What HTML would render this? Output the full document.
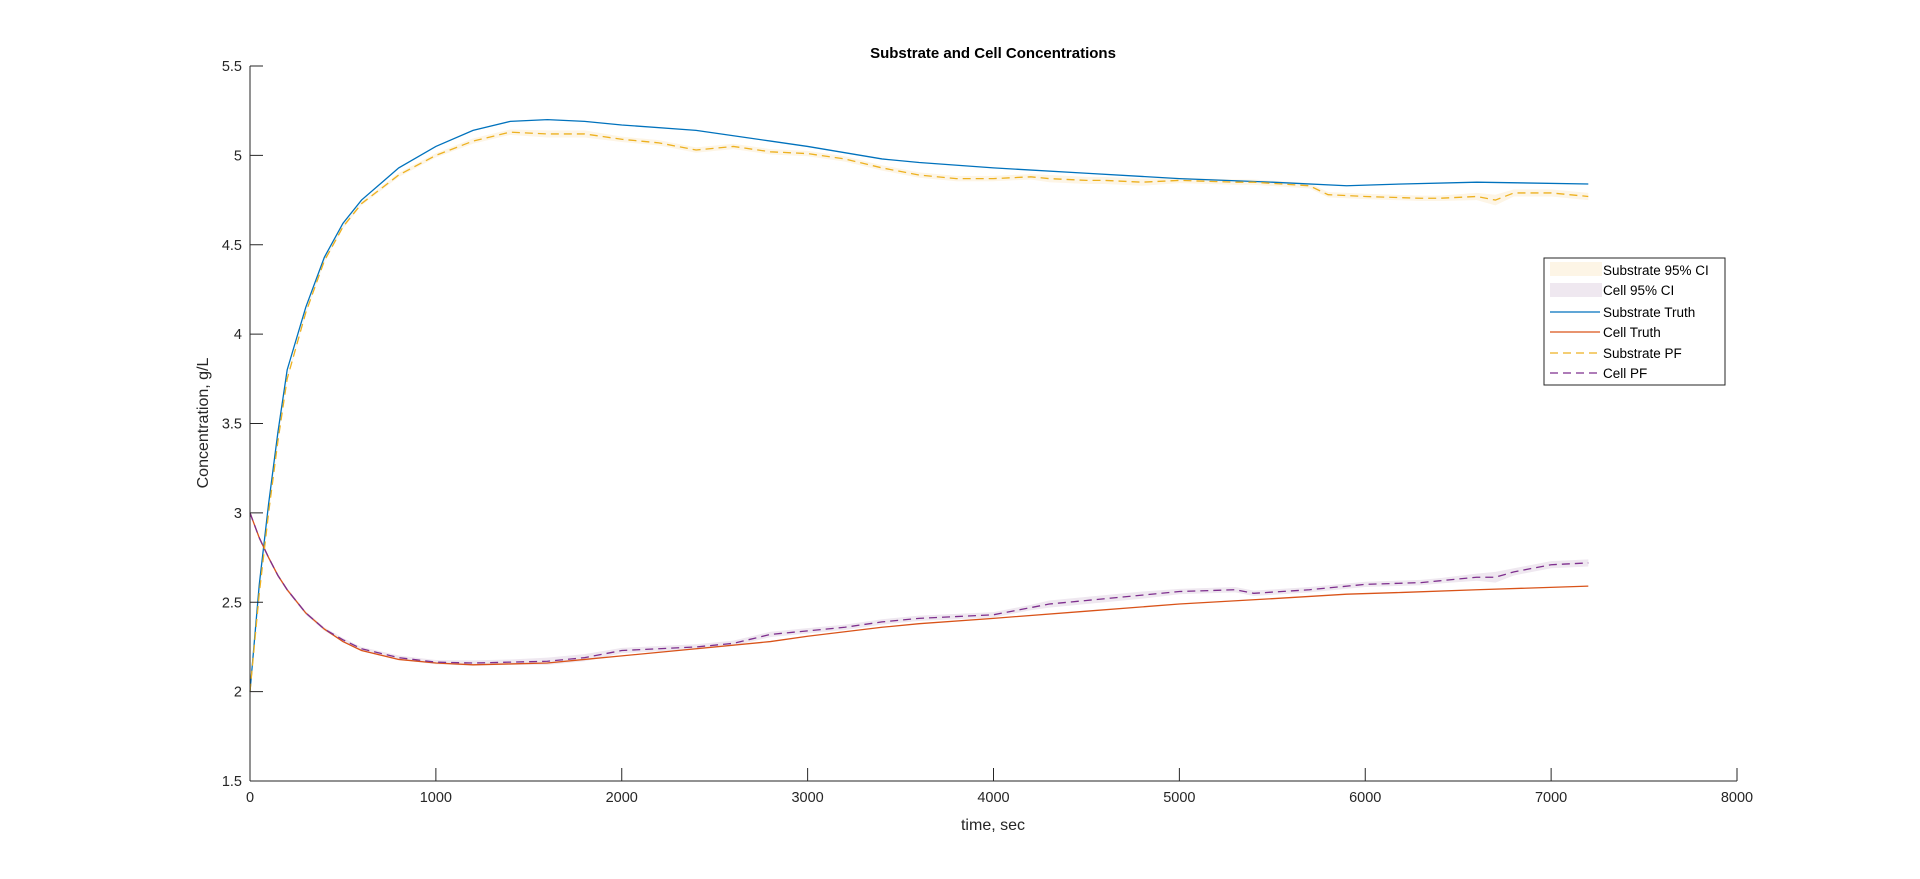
<!DOCTYPE html>
<html><head><meta charset="utf-8"><style>
html,body{margin:0;padding:0;background:#fff;}
svg{display:block;font-family:"Liberation Sans",Arial,sans-serif;}
</style></head><body>
<svg id="chart" width="1920" height="879" viewBox="0 0 1920 879">
<rect width="1920" height="879" fill="#fff"/>
<text x="993" y="58" text-anchor="middle" font-size="15" font-weight="bold" fill="#000">Substrate and Cell Concentrations</text>
<g id="bands"></g><g id="lines"></g><g id="axes"></g>
<text x="993" y="830" text-anchor="middle" font-size="16" fill="#262626">time, sec</text>
<text transform="translate(208,423) rotate(-90)" text-anchor="middle" font-size="16" fill="#262626">Concentration, g/L</text>
<g>
<rect x="1544" y="258" width="181" height="127" fill="#fff" stroke="#262626" stroke-width="1"/>
<rect x="1550" y="262" width="52" height="14" fill="#fdf5e6"/>
<text x="1603" y="275" font-size="13.5" fill="#000">Substrate 95% CI</text>
<rect x="1550" y="283" width="52" height="14" fill="#efe8f0"/>
<text x="1603" y="295" font-size="13.5" fill="#000">Cell 95% CI</text>
<line x1="1550" y1="312" x2="1600" y2="312" stroke="#0072BD" stroke-width="1.3"/>
<text x="1603" y="317" font-size="13.5" fill="#000">Substrate Truth</text>
<line x1="1550" y1="332" x2="1600" y2="332" stroke="#D95319" stroke-width="1.3"/>
<text x="1603" y="337" font-size="13.5" fill="#000">Cell Truth</text>
<line x1="1550" y1="353" x2="1600" y2="353" stroke="#EDB120" stroke-width="1.3" stroke-dasharray="8,5"/>
<text x="1603" y="358" font-size="13.5" fill="#000">Substrate PF</text>
<line x1="1550" y1="373" x2="1600" y2="373" stroke="#7E2F8E" stroke-width="1.3" stroke-dasharray="8,5"/>
<text x="1603" y="378" font-size="13.5" fill="#000">Cell PF</text>
</g>
</svg>
<script>
const xTicks=[0,1000,2000,3000,4000,5000,6000,7000,8000];
const yTicks=[1.5,2,2.5,3,3.5,4,4.5,5,5.5];
const yTickLabels=["1.5","2","2.5","3","3.5","4","4.5","5","5.5"];
const tTruth=[0,50,100,150,200,300,400,500,600,800,1000,1200,1400,1600,1800,2000,2400,2800,3000,3400,3600,4000,4500,5000,5500,5900,6200,6600,7200];
const substrateTruth=[2.0,2.6,3.05,3.45,3.8,4.15,4.43,4.62,4.75,4.93,5.05,5.14,5.19,5.2,5.19,5.17,5.14,5.08,5.05,4.98,4.96,4.93,4.9,4.87,4.85,4.83,4.84,4.85,4.84];
const cellTruth=[3.0,2.86,2.75,2.65,2.57,2.44,2.35,2.28,2.23,2.18,2.16,2.15,2.155,2.16,2.18,2.2,2.24,2.28,2.31,2.36,2.38,2.41,2.45,2.49,2.52,2.545,2.555,2.57,2.59];
const tPF=[0,50,100,150,200,300,400,500,600,800,1000,1200,1400,1600,1800,2000,2200,2400,2600,2800,3000,3200,3400,3600,3800,4000,4200,4300,4500,4600,4800,5000,5300,5400,5700,5800,6000,6300,6400,6600,6700,6800,7000,7200];
const substratePF=[2.0,2.55,3.0,3.4,3.75,4.12,4.41,4.6,4.73,4.89,5.0,5.08,5.13,5.12,5.12,5.09,5.07,5.03,5.05,5.02,5.01,4.98,4.93,4.89,4.87,4.87,4.88,4.87,4.86,4.86,4.85,4.86,4.85,4.85,4.83,4.78,4.77,4.76,4.76,4.77,4.75,4.79,4.79,4.77];
const cellPF=[3.0,2.86,2.75,2.65,2.57,2.44,2.35,2.29,2.24,2.19,2.165,2.16,2.165,2.17,2.19,2.23,2.24,2.25,2.27,2.32,2.34,2.36,2.39,2.41,2.42,2.43,2.47,2.49,2.51,2.52,2.54,2.56,2.57,2.55,2.57,2.58,2.6,2.61,2.62,2.64,2.64,2.67,2.71,2.72];
const ciHalf=[0,0.01,0.01,0.01,0.01,0.01,0.01,0.01,0.01,0.012,0.012,0.015,0.015,0.02,0.02,0.015,0.015,0.015,0.015,0.015,0.015,0.015,0.015,0.015,0.015,0.015,0.015,0.02,0.02,0.02,0.02,0.015,0.015,0.015,0.015,0.015,0.015,0.015,0.015,0.02,0.03,0.02,0.02,0.02];
const L=250,R=1737,T=66,B=781;
const X=v=>L+(v-0)/(8000-0)*(R-L);
const Y=v=>B-(v-1.5)/(5.5-1.5)*(B-T);
const NS="http://www.w3.org/2000/svg";
function mk(tag,attrs,parent){const e=document.createElementNS(NS,tag);for(const k in attrs)e.setAttribute(k,attrs[k]);parent.appendChild(e);return e;}
const bands=document.getElementById('bands'),lines=document.getElementById('lines'),axes=document.getElementById('axes');
function band(vals,fill,name){
 let up=tPF.map((t,i)=>X(t)+','+Y(vals[i]+ciHalf[i]));
 let dn=tPF.map((t,i)=>X(t)+','+Y(vals[i]-ciHalf[i])).reverse();
 const p=mk('polygon',{points:up.concat(dn).join(' '),fill:fill},bands);
 
 
}
band(substratePF,'#fdf5e6','substrate-ci-band');
band(cellPF,'#efe8f0','cell-ci-band');
function line(ts,vals,color,dash,name){
 const p=mk('polyline',{points:ts.map((t,i)=>X(t)+','+Y(vals[i])).join(' '),fill:'none',stroke:color,'stroke-width':1.3},lines);
 if(dash)p.setAttribute('stroke-dasharray',dash);
 
 
}
line(tTruth,substrateTruth,'#0072BD',null,'substrate-truth-line');
line(tTruth,cellTruth,'#D95319',null,'cell-truth-line');
line(tPF,substratePF,'#EDB120','8,5','substrate-pf-line');
line(tPF,cellPF,'#7E2F8E','8,5','cell-pf-line');
const xa=mk('line',{x1:L,y1:B,x2:R,y2:B,stroke:'#262626','stroke-width':1},axes);


const ya=mk('line',{x1:L,y1:B,x2:L,y2:T,stroke:'#262626','stroke-width':1},axes);


xTicks.forEach(v=>{
 mk('line',{x1:X(v),y1:B,x2:X(v),y2:B-13,stroke:'#262626'},axes);
 const t=mk('text',{x:X(v),y:B+21,'text-anchor':'middle','font-size':14.5,fill:'#262626'},axes);
 t.textContent=String(v);
 
 
});
yTicks.forEach((v,i)=>{
 mk('line',{x1:L,y1:Y(v),x2:L+13,y2:Y(v),stroke:'#262626'},axes);
 const t=mk('text',{x:L-8,y:Y(v)+5,'text-anchor':'end','font-size':14.5,fill:'#262626'},axes);
 t.textContent=yTickLabels[i];
 
 
});
</script>
</body></html>
